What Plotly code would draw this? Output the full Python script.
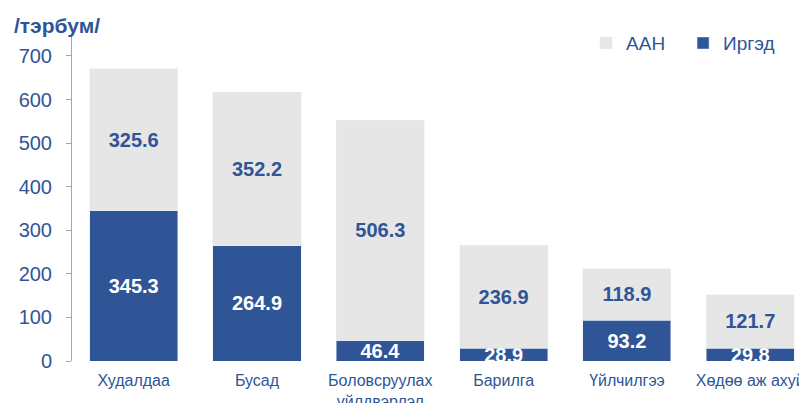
import plotly.graph_objects as go

categories = ['Худалдаа', 'Бусад', 'Боловсруулах<br>үйлдвэрлэл', 'Барилга', 'Үйлчилгээ', 'Хөдөө аж ахуй']
irged = [345.3, 264.9, 46.4, 28.9, 93.2, 29.8]
aan = [325.6, 352.2, 506.3, 236.9, 118.9, 121.7]

blue = '#2F5597'
gray = '#E6E6E6'
font = 'Liberation Sans, Arial, sans-serif'

fig = go.Figure()
fig.add_trace(go.Bar(
    x=categories, y=irged, name='Иргэд', marker_color=blue,
    text=[f'{v:.1f}' for v in irged], textposition='inside',
    insidetextanchor='middle', constraintext='none',
    textfont=dict(color='white', size=20, family=font, weight='bold'),
))
fig.add_trace(go.Bar(
    x=categories, y=aan, name='ААН', marker_color=gray,
    text=[f'{v:.1f}' for v in aan], textposition='inside',
    insidetextanchor='middle', constraintext='none',
    textfont=dict(color=blue, size=20, family=font, weight='bold'),
))

# the page body adds an 8px offset, so the figure is a bit smaller
fig.update_layout(
    barmode='stack', bargap=0.286,
    width=799, height=395,
    margin=dict(l=64, r=0, t=27, b=42, autoexpand=False),
    plot_bgcolor='white', paper_bgcolor='white',
    font=dict(family=font, color=blue),
    showlegend=True,
    legend=dict(orientation='h', x=0.6994, y=0.975, xanchor='left', yanchor='middle',
                traceorder='reversed', font=dict(size=19, color=blue),
                itemwidth=30, entrywidth=52),
)
fig.update_yaxes(range=[0, 748], dtick=100, showgrid=False, showline=True,
                 linecolor='#A6A6A6', linewidth=1, ticks='outside', ticklen=5,
                 tickcolor='#A6A6A6', tickfont=dict(size=20, color=blue),
                 ticklabelstandoff=10, zeroline=False, automargin=False)
fig.update_xaxes(range=[-0.5, 5.46], showline=False, ticks='', showgrid=False,
                 tickfont=dict(size=16, color=blue), ticklabelstandoff=8,
                 automargin=False)

fig.add_annotation(text='<b>/тэрбум/</b>', xref='paper', yref='paper', x=-60/735, y=1.0,
                   xanchor='left', yanchor='bottom', showarrow=False,
                   font=dict(size=21, color=blue), yshift=-4)

fig.write_html('out.html')
